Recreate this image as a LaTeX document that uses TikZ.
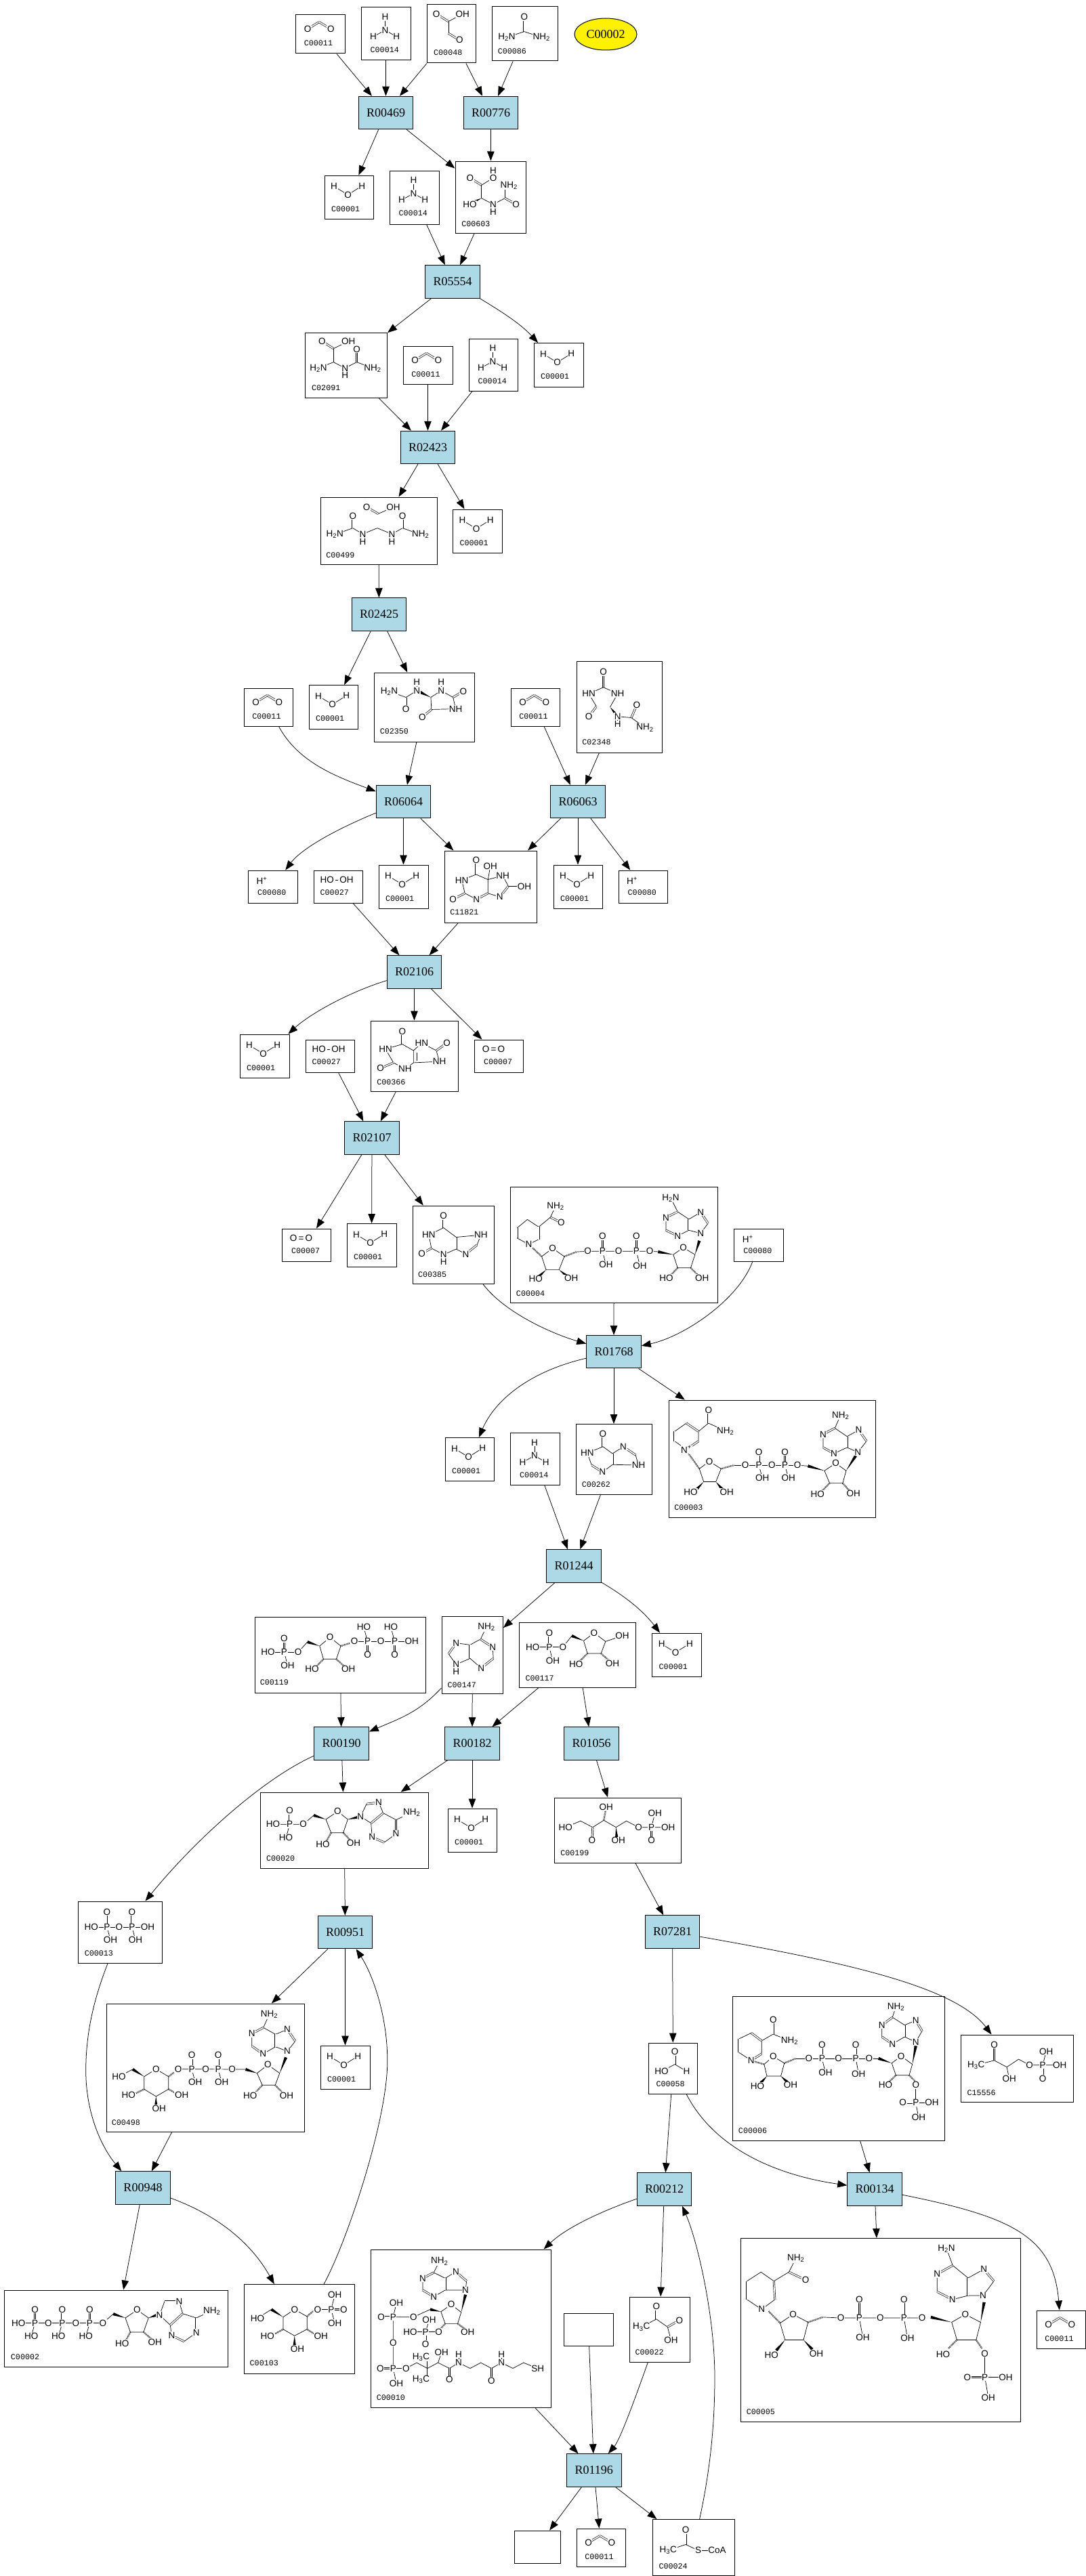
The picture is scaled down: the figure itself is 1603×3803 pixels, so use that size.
\documentclass[tikz,border=0pt]{standalone}
\usepackage{fontspec}
\usetikzlibrary{arrows.meta,shapes.geometric,calc}
\setmainfont{Liberation Sans}
\newfontfamily\rxnfont{Liberation Serif}
\newfontfamily\codefont{Liberation Mono}
\definecolor{rxnblue}{HTML}{ADD8E6}
\tikzset{
  cpd/.style={draw=black,line width=1pt,rectangle,inner sep=0pt,fill=white},
  rxn/.style={draw=black,line width=1pt,rectangle,inner sep=0pt,fill=rxnblue,minimum width=80.5pt,minimum height=48.5pt,font=\rxnfont\fontsize{18}{20}\selectfont},
  yel/.style={draw=black,line width=1pt,ellipse,inner sep=0pt,fill=yellow,minimum width=92pt,minimum height=47pt,font=\rxnfont\fontsize{18}{20}\selectfont},
  arr/.style={-{Triangle[length=14pt,width=10.5pt]},line width=.75pt},
  bd/.style={line width=.7pt},
  atomlab/.style={font=\fontsize{13.5}{14}\selectfont,fill=white,inner xsep=.6pt,inner ysep=.8pt},
  codelab/.style={font=\codefont\fontsize{11.7}{12}\selectfont,anchor=west,inner sep=0pt},
  cA/.style={shift={(380pt,0pt)},x=.3846pt,y=-.3333pt},
  cB/.style={shift={(420pt,-450pt)},x=.3846pt,y=-.3846pt},
  cC/.style={shift={(340pt,-960pt)},x=.4484pt,y=-.4484pt},
  cD/.style={shift={(340pt,-1640pt)},x=.641pt,y=-.408pt},
  cE/.style={shift={(340pt,-2280pt)},x=.5128pt,y=-.3333pt},
  cF/.style={shift={(100pt,-2780pt)},x=.5128pt,y=-.3333pt},
  cG/.style={shift={(0pt,-3150pt)},x=.5257pt,y=-.4184pt},
  cH/.style={shift={(800pt,-2900pt)},x=.5147pt,y=-.5787pt},
}
\newcount\atomno
\newcommand\atm[2]{\global\advance\atomno by 1 \node[atomlab] (atom\the\atomno) at (#1) {#2};}
\newcommand\lab[2]{\global\advance\atomno by 1 \node[codelab] (atom\the\atomno) at (#1) {#2};}
\newcommand\bnd[2]{\draw[bd] (#1)--(#2);}
\newcommand\dbl[2]{\draw[line width=.65pt,double,double distance=1.7pt] (#1)--(#2);}
\newcommand\wed[2]{\fill ($(#2)!2.2pt!90:(#1)$) -- (#1) -- ($(#2)!2.2pt!-90:(#1)$) -- cycle;}
\newcommand\hsh[2]{\draw[line width=2.4pt,dash pattern=on .7pt off 1.1pt] (#1)--(#2);}
\newcommand\cbox[5]{\node[cpd,minimum width={(#3-#2)*1pt},minimum height={(#5-#4)*1pt}] (#1) at ({(#2+#3)/2},{(#4+#5)/2}) {};}
\newcommand\rbox[3]{\node[rxn] (#1) at (#2) {#3};}
\newcommand\lk[2]{\draw[arr] (#1) -- (#2);}
\newcommand\cv[4]{\draw[arr] (#1) .. controls (#2) and (#3) .. (#4);}
\newcommand\water[1]{\begin{scope}[shift={(#1.north west)}]\bnd{14.6,16.7}{35,29}\bnd{35,29}{55.8,16}\atm{14.6,16.7}{H}\atm{35,29}{O}\atm{55.8,16}{H}\lab{10.4,50}{C00001}\end{scope}}
\newcommand\ammonia[1]{\begin{scope}[shift={(#1.north west)}]\bnd{36,14.7}{36,34}\bnd{36,34}{18.5,43.7}\bnd{36,34}{52.7,43.7}\atm{36,14.7}{H}\atm{36,34}{N}\atm{18.5,43.7}{H}\atm{52.7,43.7}{H}\lab{14,62.7}{C00014}\end{scope}}
\newcommand\cotwo[1]{\begin{scope}[shift={(#1.north west)}]\dbl{18,21.3}{35,11}\dbl{35,11}{52.3,21.3}\atm{18,21.3}{O}\atm{52.3,21.3}{O}\lab{12.7,41.7}{C00011}\end{scope}}
\newcommand\hplus[1]{\begin{scope}[shift={(#1.north west)}]\atm{20.6,15.7}{H\textsuperscript{+}}\lab{14,33.6}{C00080}\end{scope}}
\newcommand\perox[1]{\begin{scope}[shift={(#1.north west)}]\atm{34.5,14.3}{HO\,\rule[3.6pt]{4pt}{.6pt}\,OH}\lab{10,33.6}{C00027}\end{scope}}
\newcommand\oxy[1]{\begin{scope}[shift={(#1.north west)}]\atm{29,14.8}{O\,=\,O}\lab{14.3,33.6}{C00007}\end{scope}}
\newcommand\ttwo{\textsubscript{2}}
\newcommand\tthree{\textsubscript{3}}
\begin{document}
\begin{tikzpicture}[x=1pt,y=-1pt]
\useasboundingbox (0,0) rectangle (1603,3803);
% compound boxes
\cbox{c11a}{436.5}{509}{22}{79}
\cbox{c14a}{533}{606}{11}{89}
\cbox{c48}{630}{702}{7}{93}
\cbox{c86}{726}{823}{10}{90}
\node[yel] (el2) at (894,50.5) {C00002};
\cbox{w1}{479}{551.5}{259}{323}
\cbox{c14b}{575}{648}{252}{331}
\cbox{c603}{672}{776.5}{238}{344}
\cbox{c2091}{450}{571.5}{491}{587}
\cbox{c11b}{595}{668}{511}{567}
\cbox{c14c}{692}{764}{500}{577}
\cbox{w2}{788}{861}{506.5}{571}
\cbox{c499}{473}{645}{734}{833.5}
\cbox{w3}{668.5}{741}{752}{816}
\cbox{c11c}{360}{432}{1016}{1072}
\cbox{w4}{456}{528}{1011.5}{1076}
\cbox{c2350}{552.5}{700}{993}{1095}
\cbox{c11d}{754}{826.5}{1016}{1072}
\cbox{c2348}{851}{977}{976.6}{1111}
\cbox{h1}{366.5}{439}{1285}{1333}
\cbox{p1}{463}{535.5}{1285}{1333}
\cbox{w5}{559}{632}{1277}{1341}
\cbox{c11821}{656}{792.5}{1256}{1362}
\cbox{w6}{817}{889}{1277}{1341}
\cbox{h2}{913}{985}{1285}{1333}
\cbox{w7}{354}{427}{1527}{1591}
\cbox{p2}{451}{523}{1535}{1583}
\cbox{c366}{547}{676}{1507}{1611.6}
\cbox{o1}{700}{772}{1535}{1583}
\cbox{o2}{416}{488}{1814}{1862}
\cbox{w8}{512}{585}{1806.5}{1870.6}
\cbox{c385}{609}{729}{1780}{1895.5}
\cbox{c4}{753.5}{1059}{1752}{1923}
\cbox{h3}{1083.6}{1156}{1814}{1862}
\cbox{w9}{657}{729}{2122.5}{2186.5}
\cbox{c14d}{753.5}{826}{2115.5}{2192.6}
\cbox{c262}{850}{962}{2102.5}{2206.5}
\cbox{c3}{987}{1292}{2067}{2240}
\cbox{c119}{376}{628}{2387}{2499}
\cbox{c147}{652}{742.5}{2386}{2500}
\cbox{c117}{766.7}{938.5}{2395}{2491}
\cbox{w10}{962.6}{1035}{2411}{2475}
\cbox{c20}{384.6}{632}{2646}{2758}
\cbox{w11}{661}{733}{2670}{2734}
\cbox{c199}{818}{1005.6}{2654}{2750}
\cbox{c13}{115}{239}{2807}{2898}
\cbox{c498}{157}{449}{2958}{3147}
\cbox{w12}{473}{546}{3020}{3084}
\cbox{c58}{957.5}{1029.5}{3016}{3091.5}
\cbox{c6}{1081}{1394.5}{2947.5}{3160}
\cbox{c15556}{1418.6}{1584}{3004}{3103}
\cbox{c5}{1093}{1506}{3304.5}{3575}
\cbox{c11e}{1530}{1602}{3411}{3467}
\cbox{c2}{6}{336.5}{3381}{3494}
\cbox{c103}{360.7}{523}{3372.6}{3504}
\cbox{c10}{547}{813}{3321}{3554}
\cbox{c22}{929}{1018}{3391}{3487}
\cbox{e1}{832.4}{905}{3415}{3463}
\cbox{e2}{759}{827}{3736}{3784}
\cbox{c11f}{851}{923}{3733}{3789}
\cbox{c24}{963}{1084}{3719.5}{3802.5}
% reaction boxes
\rbox{r469}{569.5,166.5}{R00469}
\rbox{r776}{724.5,166.5}{R00776}
\rbox{r5554}{668,416}{R05554}
\rbox{r2423}{631.5,660.5}{R02423}
\rbox{r2425}{559.5,907}{R02425}
\rbox{r6064}{595.5,1183.5}{R06064}
\rbox{r6063}{853,1183.5}{R06063}
\rbox{r2106}{611.5,1435}{R02106}
\rbox{r2107}{549,1680}{R02107}
\rbox{r1768}{906,1995.7}{R01768}
\rbox{r1244}{847,2312}{R01244}
\rbox{r190}{504,2574}{R00190}
\rbox{r182}{697,2574}{R00182}
\rbox{r1056}{873,2574}{R01056}
\rbox{r951}{509.5,2852.5}{R00951}
\rbox{r7281}{992.5,2852}{R07281}
\rbox{r948}{211,3230}{R00948}
\rbox{r212}{980.5,3232}{R00212}
\rbox{r134}{1291,3232}{R00134}
\rbox{r1196}{876.75,3647}{R01196}
% small repeated molecules
\cotwo{c11a}\cotwo{c11b}\cotwo{c11c}\cotwo{c11d}\cotwo{c11e}\cotwo{c11f}
\ammonia{c14a}\ammonia{c14b}\ammonia{c14c}\ammonia{c14d}
\water{w1}\water{w2}\water{w3}\water{w4}\water{w5}\water{w6}\water{w7}\water{w8}\water{w9}\water{w10}\water{w11}\water{w12}
\hplus{h1}\hplus{h2}\hplus{h3}
\perox{p1}\perox{p2}
\oxy{o1}\oxy{o2}
% crop A molecules
\begin{scope}[cA]
\dbl{687,62}{733,95}\bnd{733,95}{787,62}\bnd{733,95}{733,148}\dbl{733,148}{776,178}
\atm{687,62}{O}\atm{787,62}{OH}\atm{776,178}{O}\lab{676,234}{C00048}
\dbl{1024,75}{1024,140}\bnd{1024,140}{957,165}\bnd{1024,140}{1090,165}
\atm{1024,75}{O}\atm{957,165}{H\ttwo N}\atm{1090,165}{NH\ttwo}\lab{922,228}{C00086}
\bnd{905,757}{905,788}\dbl{816,788}{860,820}\bnd{860,820}{905,788}\bnd{860,820}{860,878}\wed{860,878}{825,897}
\bnd{860,878}{905,905}\bnd{905,905}{950,878}\bnd{905,905}{905,938}\bnd{950,878}{950,822}\dbl{950,878}{992,905}
\atm{905,757}{H}\atm{905,788}{O}\atm{816,788}{O}\atm{815,905}{HO}\atm{905,905}{N}\atm{905,938}{H}\atm{965,822}{NH\ttwo}\atm{992,905}{O}\lab{783,993}{C00603}
\end{scope}
% crop B molecules
\begin{scope}[cB]
\dbl{144,140}{188,168}\bnd{188,168}{245,140}\bnd{188,168}{188,220}\bnd{188,220}{130,243}\bnd{188,220}{232,243}\bnd{232,243}{232,270}\bnd{232,243}{277,220}\dbl{277,220}{277,170}\bnd{277,220}{338,243}
\atm{144,140}{O}\atm{245,140}{OH}\atm{130,243}{H\ttwo N}\atm{232,243}{N}\atm{232,270}{H}\atm{277,170}{O}\atm{338,243}{NH\ttwo}\lab{104,319}{C02091}
\dbl{315,777}{360,802}\bnd{360,802}{417,777}
\bnd{193,882}{262,857}\dbl{262,857}{262,810}\bnd{262,857}{300,880}\bnd{300,880}{356,857}\bnd{356,857}{412,880}\bnd{412,880}{453,857}\dbl{453,857}{453,810}\bnd{453,857}{522,882}
\atm{315,777}{O}\atm{417,777}{OH}\atm{193,882}{H\ttwo N}\atm{262,810}{O}\atm{300,880}{N}\atm{300,910}{H}\atm{412,880}{N}\atm{412,910}{H}\atm{453,810}{O}\atm{522,882}{NH\ttwo}\lab{159,960}{C00499}
\end{scope}
% crop C molecules
\begin{scope}[cC]
\bnd{523,135}{578,155}\dbl{578,155}{578,193}\bnd{578,155}{614,133}\bnd{614,133}{614,105}\wed{660,155}{625,138}
\bnd{660,155}{694,133}\bnd{694,133}{694,105}\bnd{694,133}{733,155}\dbl{733,155}{767,135}\bnd{733,155}{742,193}\bnd{742,193}{662,195}\bnd{660,155}{662,195}\dbl{662,195}{632,220}
\atm{523,135}{H\ttwo N}\atm{578,193}{O}\atm{614,133}{N}\atm{614,105}{H}\atm{694,133}{N}\atm{694,105}{H}\atm{767,135}{O}\atm{742,193}{NH}\atm{632,220}{O}\lab{492,267}{C02350}
\dbl{1228,72}{1228,122}\bnd{1228,122}{1180,143}\bnd{1228,122}{1275,143}\bnd{1180,143}{1205,185}\dbl{1205,185}{1180,218}\bnd{1275,143}{1250,187}\wed{1250,187}{1270,212}\bnd{1275,218}{1275,243}\bnd{1275,218}{1320,222}\dbl{1320,222}{1338,180}\bnd{1320,222}{1365,255}
\atm{1228,72}{O}\atm{1180,143}{HN}\atm{1275,143}{NH}\atm{1180,218}{O}\atm{1275,218}{N}\atm{1275,243}{H}\atm{1338,180}{O}\atm{1365,255}{NH\ttwo}\lab{1158,302}{C02348}
\dbl{809,690}{809,738}\draw[bd] (809,738)--(762,757)--(772,800)--(810,820);\dbl{810,820}{848,800}\draw[bd] (848,800)--(848,755)--(809,738);\dbl{772,800}{733,820}
\bnd{848,755}{856,711}\draw[bd] (848,755)--(897,742)--(915,777);\dbl{915,777}{887,812}\bnd{887,812}{848,800}\bnd{915,777}{968,777}
\atm{809,690}{O}\atm{856,711}{OH}\atm{762,757}{HN}\atm{733,820}{O}\atm{810,820}{N}\atm{897,742}{NH}\atm{887,812}{N}\atm{968,777}{OH}\lab{723,863}{C11821}
\dbl{566,1255}{566,1297}\draw[bd] (566,1297)--(511,1313)--(537,1358)--(575,1378)--(603,1358)--(603,1318)--(566,1297);\dbl{537,1358}{494,1376}\draw[bd] (603,1318)--(630,1293)--(678,1318)--(688,1354)--(603,1358);\dbl{678,1318}{713,1293}\bnd{613,1325}{613,1352}
\atm{566,1255}{O}\atm{511,1313}{HN}\atm{494,1376}{O}\atm{575,1378}{NH}\atm{630,1293}{HN}\atm{713,1293}{O}\atm{688,1354}{NH}\lab{482,1421}{C00366}
\end{scope}
% crop D molecules
\begin{scope}[cD]
\dbl{491,380}{491,423}\draw[bd] (491,423)--(457,449)--(463,497)--(491,520)--(520,500);\dbl{520,457}{520,500}\bnd{491,423}{520,457}\dbl{463,497}{441,516}\bnd{491,520}{491,545}\draw[bd] (520,457)--(577,449)--(568,485)--(542,518)--(520,500);\dbl{568,485}{542,518}
\atm{491,380}{O}\atm{457,449}{HN}\atm{441,516}{O}\atm{491,520}{N}\atm{491,545}{H}\atm{577,449}{NH}\atm{542,518}{N}\lab{432,591}{C00385}
% C00004
\bnd{749,345}{737,385}\dbl{737,385}{762,404}\bnd{737,385}{710,420}\draw[bd] (710,420)--(684,393)--(660,424);\dbl{660,424}{660,460}\draw[bd] (660,460)--(687,483)--(710,465);\dbl{710,420}{710,465}\hsh{692,490}{717,527}
\draw[bd] (742,497)--(717,527)--(727,575)--(757,575)--(769,527)--cycle;\wed{727,575}{710,600}\wed{757,575}{775,598}\hsh{769,527}{797,510}\draw[bd] (797,510)--(823,508)--(966,508);\dbl{857,508}{857,454}\bnd{857,508}{865,557}\dbl{935,508}{935,454}\bnd{935,508}{943,560}\wed{1020,520}{985,510}\bnd{966,508}{990,510}
\draw[bd] (1043,495)--(1020,520)--(1030,568)--(1060,568)--(1070,520)--cycle;\hsh{1030,568}{1012,598}\hsh{1060,568}{1078,596}\wed{1070,520}{1080,470}
\draw[bd] (1083,443)--(1100,407)--(1083,367)--(1056,392)--(1056,432)--(1083,443);\draw[bd] (1056,392)--(1030,365)--(1003,386)--(1003,432)--(1030,452)--(1056,432);\bnd{1030,365}{1014,315}
\dbl{1030,365}{1003,386}\dbl{1003,432}{1030,452}\dbl{1056,392}{1056,432}\dbl{1083,367}{1100,407}
\atm{749,345}{NH\ttwo}\atm{762,404}{O}\atm{687,483}{N}\atm{742,497}{O}\atm{703,608}{HO}\atm{785,606}{OH}\atm{823,508}{O}\atm{857,508}{P}\atm{857,454}{O}\atm{865,557}{OH}\atm{894,508}{O}\atm{935,508}{P}\atm{935,454}{O}\atm{943,560}{OH}\atm{966,508}{O}\atm{1043,495}{O}\atm{1004,605}{HO}\atm{1086,604}{OH}\atm{1083,443}{N}\atm{1083,367}{N}\atm{1030,452}{N}\atm{1003,386}{N}\atm{1014,315}{H\ttwo N}\lab{658,660}{C00004}
% C00003
\dbl{1101,1083}{1101,1130}\bnd{1101,1130}{1140,1158}\bnd{1101,1130}{1078,1160}\draw[bd] (1078,1160)--(1050,1130)--(1023,1160)--(1023,1195)--(1050,1225)--(1078,1195)--cycle;\dbl{1023,1160}{1023,1195}\dbl{1050,1130}{1078,1160}\dbl{1050,1225}{1078,1195}\hsh{1055,1240}{1080,1295}
\draw[bd] (1103,1268)--(1080,1295)--(1090,1342)--(1118,1342)--(1130,1295)--cycle;\wed{1090,1342}{1072,1372}\wed{1118,1342}{1132,1368}\hsh{1130,1295}{1160,1282}\draw[bd] (1160,1282)--(1186,1282)--(1306,1282);\dbl{1217,1282}{1217,1235}\bnd{1217,1282}{1225,1328}\dbl{1277,1282}{1277,1235}\bnd{1277,1282}{1285,1328}\bnd{1306,1282}{1330,1285}\wed{1368,1302}{1330,1285}
\draw[bd] (1394,1275)--(1368,1302)--(1380,1347)--(1410,1347)--(1418,1302)--cycle;\hsh{1380,1347}{1362,1376}\hsh{1410,1347}{1426,1375}\wed{1418,1302}{1440,1248}
\draw[bd] (1445,1235)--(1465,1195)--(1447,1155)--(1420,1178)--(1420,1218)--(1445,1235);\draw[bd] (1420,1178)--(1392,1148)--(1365,1170)--(1365,1218)--(1390,1240)--(1420,1218);\bnd{1392,1148}{1405,1102}
\dbl{1392,1148}{1365,1170}\dbl{1365,1218}{1390,1240}\dbl{1420,1178}{1420,1218}\dbl{1447,1155}{1465,1195}
\atm{1101,1083}{O}\atm{1140,1158}{NH\ttwo}\atm{1050,1225}{N\textsuperscript{+}}\atm{1103,1268}{O}\atm{1060,1380}{HO}\atm{1143,1380}{OH}\atm{1186,1282}{O}\atm{1217,1282}{P}\atm{1217,1235}{O}\atm{1225,1328}{OH}\atm{1247,1282}{O}\atm{1277,1282}{P}\atm{1277,1235}{O}\atm{1285,1328}{OH}\atm{1306,1282}{O}\atm{1394,1275}{O}\atm{1352,1386}{HO}\atm{1435,1385}{OH}\atm{1445,1235}{N}\atm{1447,1155}{N}\atm{1390,1240}{N}\atm{1365,1170}{N}\atm{1405,1102}{NH\ttwo}\lab{1022,1436}{C00003}
% C00262
\dbl{858,1168}{858,1215}\draw[bd] (858,1215)--(822,1238)--(832,1282)--(857,1307)--(880,1280)--(880,1240)--(858,1215);\draw[bd] (880,1240)--(905,1215)--(933,1245)--(940,1282)--(880,1280);\dbl{857,1307}{832,1282}\dbl{905,1215}{933,1245}\dbl{880,1240}{880,1280}
\atm{858,1168}{O}\atm{822,1238}{HN}\atm{857,1307}{N}\atm{905,1215}{N}\atm{940,1282}{NH}\lab{809,1353}{C00262}
\end{scope}
% crop E molecules
\begin{scope}[cE]
% C00119
\dbl{155,418}{155,478}\draw[bd] (108,478)--(195,478);\bnd{155,478}{165,537}\bnd{195,478}{222,432}\wed{257,450}{222,432}
\draw[bd] (287,412)--(257,450)--(268,508)--(305,508)--(318,450)--cycle;\hsh{268,508}{248,540}\hsh{305,508}{328,540}\hsh{318,450}{345,437}
\draw[bd] (357,430)--(522,430);\bnd{395,430}{384,367}\dbl{395,430}{395,490}\bnd{473,430}{462,367}\dbl{473,430}{473,490}
\atm{155,418}{O}\atm{108,478}{HO}\atm{155,478}{P}\atm{165,537}{OH}\atm{195,478}{O}\atm{287,412}{O}\atm{235,553}{HO}\atm{340,553}{OH}\atm{357,430}{O}\atm{395,430}{P}\atm{384,367}{HO}\atm{395,490}{O}\atm{433,430}{O}\atm{473,430}{P}\atm{462,367}{HO}\atm{473,490}{O}\atm{522,430}{OH}\lab{85,612}{C00119}
% C00147
\draw[bd] (737,366)--(720,420)--(755,455)--(757,505)--(722,548)--(690,505)--(690,445)--(720,420);\draw[bd] (690,445)--(650,437)--(628,485)--(650,532)--(690,505);\bnd{650,532}{650,565}\dbl{690,445}{690,505}\dbl{720,420}{755,455}\dbl{757,505}{722,548}\dbl{650,437}{628,485}
\atm{737,366}{NH\ttwo}\atm{755,455}{N}\atm{722,548}{N}\atm{650,437}{N}\atm{650,532}{N}\atm{650,565}{H}\lab{625,622}{C00147}
% C00117
\dbl{918,392}{918,455}\draw[bd] (870,455)--(957,455);\bnd{918,455}{928,516}\bnd{957,455}{983,405}\wed{1017,427}{983,405}
\draw[bd] (1047,392)--(1017,427)--(1028,483)--(1067,483)--(1080,430)--cycle;\hsh{1028,483}{1005,518}\hsh{1067,483}{1090,515}\bnd{1080,430}{1128,405}
\atm{918,392}{O}\atm{870,455}{HO}\atm{918,455}{P}\atm{928,516}{OH}\atm{957,455}{O}\atm{1047,392}{O}\atm{995,530}{HO}\atm{1100,528}{OH}\atm{1128,405}{OH}\lab{849,592}{C00117}
% C00020
\dbl{171,1180}{171,1240}\draw[bd] (123,1240)--(210,1240)--(240,1200);\bnd{171,1240}{160,1300}\wed{275,1218}{240,1200}
\draw[bd] (309,1183)--(275,1218)--(290,1277)--(325,1277)--(338,1218)--cycle;\hsh{290,1277}{276,1316}\hsh{325,1277}{345,1310}\wed{338,1218}{368,1208}
\draw[bd] (375,1205)--(392,1150)--(427,1143)--(440,1190)--(405,1235)--(375,1205);\draw[bd] (405,1235)--(408,1297)--(443,1320)--(477,1282)--(477,1220)--(440,1190);\bnd{477,1220}{522,1188}
\dbl{392,1150}{427,1143}\dbl{440,1190}{405,1235}\dbl{408,1297}{443,1320}\dbl{477,1282}{477,1220}
\atm{171,1180}{O}\atm{123,1240}{HO}\atm{171,1240}{P}\atm{160,1300}{HO}\atm{210,1240}{O}\atm{309,1183}{O}\atm{266,1330}{HO}\atm{355,1324}{OH}\atm{375,1205}{N}\atm{427,1143}{N}\atm{408,1297}{N}\atm{477,1282}{N}\atm{522,1188}{NH\ttwo}\lab{103,1390}{C00020}
% C00199
\draw[bd] (965,1253)--(1008,1225)--(1043,1253)--(1075,1222)--(1110,1253)--(1140,1225)--(1175,1253)--(1260,1253);\dbl{1043,1253}{1041,1312}\hsh{1075,1222}{1080,1178}\wed{1110,1253}{1112,1298}\bnd{1212,1253}{1222,1192}\dbl{1212,1253}{1212,1312}
\atm{965,1253}{HO}\atm{1041,1312}{O}\atm{1082,1163}{OH}\atm{1117,1312}{OH}\atm{1175,1253}{O}\atm{1212,1253}{P}\atm{1222,1192}{OH}\atm{1260,1253}{OH}\atm{1212,1312}{O}\lab{950,1368}{C00199}
\end{scope}
% crop F molecules
\begin{scope}[cF]
\bnd{113,127}{113,195}\draw[bd] (68,195)--(230,195);\bnd{113,195}{123,252}\dbl{185,195}{185,127}\bnd{185,195}{195,252}
\atm{113,127}{O}\atm{68,195}{HO}\atm{113,195}{P}\atm{123,252}{OH}\atm{148,195}{O}\atm{185,127}{O}\atm{185,195}{P}\atm{230,195}{OH}\atm{195,252}{OH}\lab{48,312}{C00013}
% C00498
\bnd{580,582}{563,640}\draw[bd] (563,640)--(530,667)--(530,722)--(562,757)--(598,725)--(598,670)--(563,640);\draw[bd] (598,670)--(632,648)--(655,700)--(632,745)--(598,725);\wed{610,842}{628,772}
\dbl{563,640}{530,667}\dbl{530,722}{562,757}\dbl{598,725}{598,670}\dbl{632,648}{655,700}
\draw[bd] (576,805)--(545,842)--(560,895)--(597,895)--(610,842)--cycle;\hsh{560,895}{540,928}\hsh{597,895}{618,928}\wed{545,842}{512,825}\draw[bd] (512,825)--(318,824);\dbl{433,824}{433,762}\bnd{433,824}{443,882}\dbl{357,824}{357,762}\bnd{357,824}{367,882}\hsh{305,840}{290,857}
\draw[bd] (254,824)--(220,857)--(220,913)--(254,945)--(290,913)--(290,857)--cycle;\wed{220,857}{187,825}\bnd{187,825}{147,857}\hsh{220,913}{195,932}\wed{254,945}{254,985}\hsh{290,913}{310,930}
\atm{580,582}{NH\ttwo}\atm{530,667}{N}\atm{562,757}{N}\atm{632,648}{N}\atm{632,745}{N}\atm{576,805}{O}\atm{525,942}{HO}\atm{630,942}{OH}\atm{473,824}{O}\atm{433,824}{P}\atm{433,762}{O}\atm{443,882}{OH}\atm{397,824}{O}\atm{357,824}{P}\atm{357,762}{O}\atm{367,882}{OH}\atm{318,824}{O}\atm{254,824}{O}\atm{147,857}{HO}\atm{175,938}{HO}\atm{263,998}{OH}\atm{328,938}{OH}\lab{126,1060}{C00498}
\end{scope}
% crop G molecules
\begin{scope}[cG]
% C00002
\draw[bd] (52,668)--(289,668)--(318,636);\dbl{98,668}{98,620}\bnd{98,668}{88,715}\dbl{175,668}{175,620}\bnd{175,668}{164,715}\dbl{252,668}{252,620}\bnd{252,668}{241,715}\wed{352,650}{318,636}
\draw[bd] (385,622)--(352,650)--(366,700)--(403,700)--(417,650)--cycle;\hsh{366,700}{354,728}\hsh{403,700}{425,724}\wed{417,650}{440,640}
\draw[bd] (448,640)--(462,592)--(503,592)--(513,635)--(478,675)--(448,640);\draw[bd] (478,675)--(482,712)--(517,733)--(551,702)--(551,650)--(513,635);\bnd{551,650}{595,625}
\dbl{462,592}{503,592}\dbl{513,635}{478,675}\dbl{482,712}{517,733}\dbl{551,702}{551,650}
\atm{98,620}{O}\atm{52,668}{HO}\atm{98,668}{P}\atm{88,715}{HO}\atm{136,668}{O}\atm{175,620}{O}\atm{175,668}{P}\atm{164,715}{HO}\atm{213,668}{O}\atm{252,620}{O}\atm{252,668}{P}\atm{241,715}{HO}\atm{289,668}{O}\atm{385,622}{O}\atm{343,740}{HO}\atm{435,736}{OH}\atm{448,640}{N}\atm{503,592}{N}\atm{482,712}{N}\atm{551,702}{N}\atm{595,625}{NH\ttwo}\lab{30,788}{C00002}
% C00103
\draw[bd] (827,620)--(795,647)--(795,690)--(827,713)--(862,690)--(862,645)--cycle;\wed{795,647}{762,620}\bnd{762,620}{723,651}\hsh{795,690}{770,708}\wed{827,713}{827,748}\hsh{862,690}{885,708}\hsh{862,645}{880,625}
\draw[bd] (892,620)--(930,620);\bnd{930,620}{940,569}\dbl{930,620}{965,620}\bnd{930,620}{940,669}
\atm{827,620}{O}\atm{723,651}{HO}\atm{751,713}{HO}\atm{835,760}{OH}\atm{901,713}{OH}\atm{892,620}{O}\atm{930,620}{P}\atm{940,569}{OH}\atm{965,620}{O}\atm{940,669}{OH}\lab{701,810}{C00103}
% C00010
\bnd{1234,450}{1218,490}\draw[bd] (1218,490)--(1187,510)--(1187,552)--(1218,575)--(1250,552)--(1250,510)--(1218,490);\draw[bd] (1250,510)--(1280,487)--(1310,520)--(1307,552)--(1250,552);\wed{1295,630}{1307,568}
\dbl{1218,490}{1187,510}\dbl{1187,552}{1218,575}\dbl{1250,552}{1250,510}\dbl{1280,487}{1310,520}
\draw[bd] (1267,603)--(1238,628)--(1250,670)--(1285,670)--(1295,630)--cycle;\hsh{1285,670}{1305,688}\hsh{1250,670}{1236,690}\draw[bd] (1232,699)--(1152,699);\dbl{1195,699}{1195,742}\bnd{1195,699}{1205,658}\wed{1238,628}{1208,620}
\draw[bd] (1208,620)--(1161,647)--(1104,647)--(1104,828)--(1140,828)--(1170,808)--(1200,828)--(1230,808)--(1262,828)--(1288,808)--(1320,828)--(1350,808)--(1380,828)--(1408,808)--(1440,828)--(1470,808)--(1510,828);
\dbl{1104,647}{1070,647}\bnd{1104,647}{1113,598}\dbl{1104,828}{1068,828}\bnd{1104,828}{1113,881}\bnd{1200,790}{1200,865}\bnd{1230,808}{1240,771}\dbl{1262,828}{1262,868}\dbl{1380,828}{1380,872}\bnd{1288,808}{1288,778}\bnd{1408,808}{1408,778}
\atm{1234,450}{NH\ttwo}\atm{1187,510}{N}\atm{1218,575}{N}\atm{1280,487}{N}\atm{1307,552}{N}\atm{1267,603}{O}\atm{1313,699}{OH}\atm{1232,699}{O}\atm{1195,699}{P}\atm{1195,742}{O}\atm{1205,658}{OH}\atm{1152,699}{HO}\atm{1161,647}{O}\atm{1104,647}{P}\atm{1070,647}{O}\atm{1113,598}{OH}\atm{1104,738}{O}\atm{1104,828}{P}\atm{1068,828}{O}\atm{1113,881}{OH}\atm{1140,828}{O}\atm{1182,788}{H\tthree C}\atm{1182,868}{H\tthree C}\atm{1240,771}{OH}\atm{1262,868}{O}\atm{1288,808}{N}\atm{1288,778}{H}\atm{1380,872}{O}\atm{1408,808}{N}\atm{1408,778}{H}\atm{1510,828}{SH}\lab{1057,930}{C00010}
\end{scope}
% crop H molecules
\begin{scope}[cH]
% C00058
\dbl{381,223}{381,255}\bnd{381,255}{343,273}\bnd{381,255}{415,273}\atm{381,223}{O}\atm{343,273}{HO}\atm{415,273}{H}\lab{327,306}{C00058}
% C00022
\dbl{328,873}{328,905}\bnd{328,905}{285,925}\bnd{328,905}{360,925}\dbl{360,925}{394,908}\bnd{360,925}{370,958}
\atm{328,873}{O}\atm{285,925}{H\tthree C}\atm{394,908}{O}\atm{370,958}{OH}\lab{267,990}{C00022}
% C00024
\dbl{412,1443}{412,1480}\bnd{412,1480}{362,1495}\bnd{412,1480}{448,1495}\bnd{448,1495}{502,1495}
\atm{412,1443}{O}\atm{362,1495}{H\tthree C}\atm{448,1495}{S}\atm{502,1495}{CoA}\lab{335,1535}{C00024}
% C15556
\bnd{1245,257}{1297,245}\dbl{1297,245}{1297,205}\draw[bd] (1297,245)--(1333,262)--(1367,242)--(1398,257)--(1485,257);\bnd{1333,262}{1340,292}\bnd{1436,257}{1446,222}\dbl{1436,257}{1436,292}
\atm{1245,257}{H\tthree C}\atm{1297,205}{O}\atm{1340,292}{OH}\atm{1398,257}{O}\atm{1436,257}{P}\atm{1446,222}{OH}\atm{1485,257}{OH}\atm{1436,292}{O}\lab{1219,327}{C15556}
% C00006
\bnd{710,195}{663,178}\dbl{663,178}{663,141}\bnd{663,178}{630,195}\draw[bd] (630,195)--(600,175)--(565,190)--(565,225)--(600,245)--(630,228)--cycle;\dbl{565,190}{565,225}\dbl{600,175}{630,195}\dbl{600,245}{630,228}\hsh{610,248}{637,255}
\draw[bd] (663,235)--(637,255)--(645,285)--(685,285)--(695,252)--cycle;\wed{645,285}{628,302}\wed{685,285}{703,300}\hsh{695,252}{728,240}\draw[bd] (728,240)--(938,240);\dbl{803,240}{803,205}\bnd{803,240}{813,277}\dbl{900,240}{900,205}\bnd{900,240}{908,279}\bnd{938,240}{965,240}\wed{1003,252}{965,240}
\draw[bd] (1030,234)--(1003,252)--(1015,283)--(1053,283)--(1062,255)--cycle;\hsh{1015,283}{995,300}\hsh{1053,283}{1070,298}\draw[bd] (1072,308)--(1072,353)--(1118,353);\dbl{1072,353}{1035,353}\bnd{1072,353}{1080,391}\wed{1062,255}{1072,208}
\draw[bd] (1072,198)--(1090,170)--(1072,143)--(1040,155)--(1040,185)--(1072,198);\draw[bd] (1040,155)--(1005,135)--(975,155)--(975,185)--(1005,203)--(1040,185);\bnd{1005,135}{1015,108}
\dbl{1005,135}{975,155}\dbl{975,185}{1005,203}\dbl{1040,155}{1040,185}\dbl{1072,143}{1090,170}
\atm{710,195}{NH\ttwo}\atm{663,141}{O}\atm{600,245}{N}\atm{663,235}{O}\atm{618,310}{HO}\atm{713,308}{OH}\atm{765,240}{O}\atm{803,240}{P}\atm{803,205}{O}\atm{813,277}{OH}\atm{850,240}{O}\atm{900,240}{P}\atm{900,205}{O}\atm{908,279}{OH}\atm{938,240}{O}\atm{1030,234}{O}\atm{985,308}{HO}\atm{1072,308}{O}\atm{1072,353}{P}\atm{1035,353}{O}\atm{1118,353}{OH}\atm{1080,391}{OH}\atm{1072,198}{N}\atm{1072,143}{N}\atm{1005,203}{N}\atm{975,155}{N}\atm{1015,108}{NH\ttwo}\lab{563,424}{C00006}
% C00005
\bnd{728,750}{708,785}\dbl{708,785}{756,805}\bnd{708,785}{665,808}\draw[bd] (665,808)--(628,785)--(588,808)--(588,855)--(630,880)--(668,855)--cycle;\dbl{588,808}{588,855}\dbl{665,808}{668,855}\hsh{650,885}{683,915}
\draw[bd] (720,893)--(683,915)--(697,958)--(750,958)--(763,913)--cycle;\wed{697,958}{672,985}\wed{750,958}{775,982}\hsh{763,913}{805,900}\draw[bd] (805,900)--(857,902)--(1090,902);\dbl{910,902}{910,855}\bnd{910,902}{920,951}\dbl{1038,902}{1038,855}\bnd{1038,902}{1048,953}\wed{1175,913}{1115,900}
\draw[bd] (1214,893)--(1175,913)--(1190,958)--(1245,958)--(1258,913)--cycle;\hsh{1190,958}{1165,980}\hsh{1245,958}{1262,980}\draw[bd] (1270,993)--(1270,1053)--(1330,1053);\dbl{1270,1053}{1220,1053}\bnd{1270,1053}{1280,1105}\wed{1258,913}{1268,862}
\draw[bd] (1265,845)--(1296,808)--(1267,778)--(1222,800)--(1222,845)--(1265,845);\draw[bd] (1222,800)--(1178,768)--(1133,790)--(1133,835)--(1177,855)--(1222,845);\bnd{1178,768}{1160,725}
\dbl{1178,768}{1133,790}\dbl{1133,835}{1177,855}\dbl{1222,800}{1222,845}\dbl{1267,778}{1296,808}
\atm{728,750}{NH\ttwo}\atm{756,805}{O}\atm{630,880}{N}\atm{720,893}{O}\atm{658,997}{HO}\atm{787,993}{OH}\atm{857,902}{O}\atm{910,902}{P}\atm{910,855}{O}\atm{920,951}{OH}\atm{970,902}{O}\atm{1038,902}{P}\atm{1038,855}{O}\atm{1048,953}{OH}\atm{1090,902}{O}\atm{1214,893}{O}\atm{1150,995}{HO}\atm{1270,993}{O}\atm{1270,1053}{P}\atm{1220,1053}{O}\atm{1330,1053}{OH}\atm{1280,1105}{OH}\atm{1265,845}{N}\atm{1267,778}{N}\atm{1177,855}{N}\atm{1133,790}{N}\atm{1160,725}{H\ttwo N}\lab{586,1141}{C00005}
\end{scope}
% connectors
\lk{c11a}{r469}\lk{c14a}{r469}\lk{c48}{r469}\lk{c48}{r776}\lk{c86}{r776}
\lk{r469}{w1}\lk{r469}{c603}\lk{r776}{c603}\lk{c14b}{r5554}\lk{c603}{r5554}
\lk{r5554}{c2091}\cv{r5554}{750,466}{770,480}{w2}
\lk{c2091}{r2423}\lk{c11b}{r2423}\lk{c14c}{r2423}\lk{r2423}{c499}\lk{r2423}{w3}
\lk{c499}{r2425}\lk{r2425}{w4}\lk{r2425}{c2350}
\cv{c11c}{440,1125}{495,1146}{r6064}
\lk{c2350}{r6064}\lk{c11d}{r6063}\lk{c2348}{r6063}
\cv{r6064}{495.5,1224.5}{445,1253}{h1}
\lk{r6064}{w5}\lk{r6064}{c11821}\lk{r6063}{c11821}\lk{r6063}{w6}\lk{r6063}{h2}
\lk{p1}{r2106}\lk{c11821}{r2106}
\cv{r2106}{511,1466}{455,1499}{w7}
\lk{r2106}{c366}\lk{r2106}{o1}\lk{p2}{r2107}\lk{c366}{r2107}
\lk{r2107}{o2}\lk{r2107}{w8}\lk{r2107}{c385}
\cv{c385}{745,1938}{815,1969}{r1768}
\lk{c4}{r1768}
\cv{h3}{1090,1919}{1010,1973}{r1768}
\cv{r1768}{780,2025}{730,2068}{w9}
\lk{r1768}{c262}\lk{r1768}{c3}
\lk{c14d}{r1244}\lk{c262}{r1244}
\lk{r1244}{c147}\cv{r1244}{925,2358}{950,2379}{w10}
\lk{c119}{r190}
\cv{c147}{618,2528}{590,2537}{r190}
\lk{c147}{r182}\lk{c117}{r182}\lk{c117}{r1056}
\lk{r190}{c20}\cv{r190}{390,2625}{290,2714}{c13}
\lk{r182}{c20}\lk{r182}{w11}\lk{r1056}{c199}\lk{c199}{r7281}
\lk{r7281}{c58}\cv{r7281}{1250,2897}{1410,2933}{c15556}
\lk{c20}{r951}\lk{r951}{c498}\lk{r951}{w12}
\draw[arr] (c103) .. controls (512,3310) and (572,3130) .. (571.8,3043) .. controls (572,2975) and (549.5,2914) .. (r951);
\draw[arr] (c13) .. controls (139,2950) and (126.7,3000) .. (126.7,3057) .. controls (126.7,3120) and (150,3170) .. (r948.142.7);
\lk{c498}{r948}\lk{r948}{c2}
\cv{r948}{320,3270}{370,3310}{c103}
\lk{c58}{r212}\cv{c58}{1060,3182}{1165,3214}{r134}
\lk{c6}{r134}\lk{r134}{c5}
\cv{r134}{1490,3272}{1555,3300}{c11e}
\cv{r212}{900,3260}{840,3285}{c10}
\lk{r212}{c22}
\lk{c10}{r1196}\lk{e1}{r1196}
\cv{c22}{936,3545}{915,3602}{r1196}
\lk{r1196}{e2}\lk{r1196}{c11f}\lk{r1196}{c24}
\draw[arr] (c24) .. controls (1046,3657) and (1055,3590) .. (1055,3510) .. controls (1055,3420) and (1030,3310) .. (r212.-43.3);
\end{tikzpicture}
\end{document}
